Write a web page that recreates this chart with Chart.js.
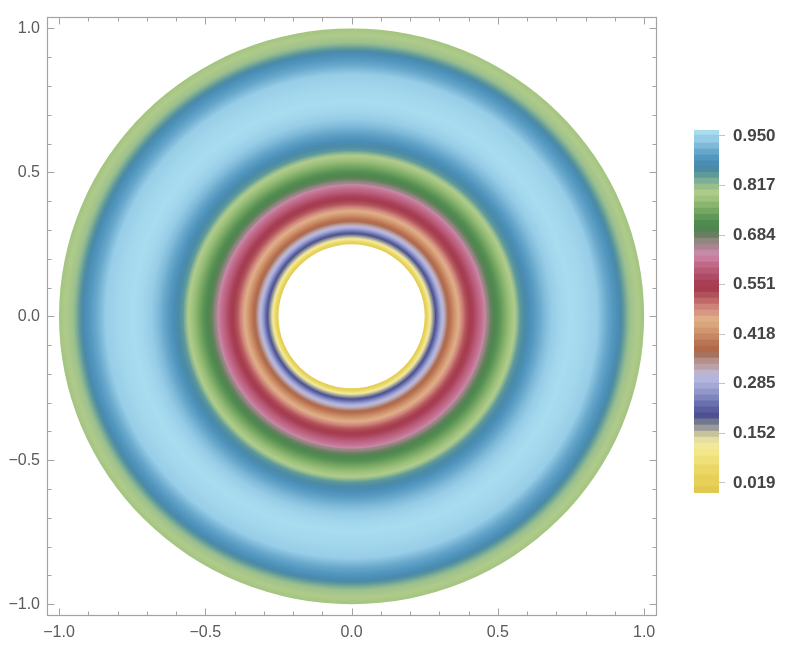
<!DOCTYPE html>
<html><head><meta charset="utf-8">
<script src="https://cdn.jsdelivr.net/npm/chart.js@4/dist/chart.umd.min.js"></script>
<style>
html,body{margin:0;padding:0;background:#fff;width:789px;height:657px;overflow:hidden}
#mainWrap{position:absolute;left:0;top:0;width:680px;height:657px}
#barWrap{position:absolute;left:680px;top:0;width:109px;height:657px}
</style></head><body>
<div id="mainWrap"><canvas id="main" width="680" height="657"></canvas></div>
<div id="barWrap"><canvas id="bar" width="109" height="657"></canvas></div>
<script>
// ---- data: radial profile of the density ----
const profileRadius = [0.25, 0.262, 0.272, 0.285, 0.303, 0.316, 0.33, 0.35, 0.371, 0.391, 0.412, 0.432, 0.453, 0.463, 0.48, 0.508, 0.535, 0.559, 0.576, 0.61, 0.662, 0.713, 0.747, 0.798, 0.84, 0.877, 0.911, 0.928, 0.952, 1.0];
const profileValue  = [0.0, 0.07, 0.14, 0.19, 0.27, 0.32, 0.37, 0.42, 0.47, 0.52, 0.55, 0.59, 0.62, 0.66, 0.69, 0.73, 0.77, 0.80, 0.845, 0.88, 0.925, 0.955, 0.966, 0.955, 0.94, 0.905, 0.877, 0.85, 0.81, 0.785];

// ---- colour legend ----
const paletteValues = [-0.008, 0.027, 0.054, 0.081, 0.102, 0.118, 0.134, 0.150, 0.166, 0.183, 0.199, 0.215, 0.231, 0.247, 0.263, 0.279, 0.295, 0.314, 0.330, 0.346, 0.362, 0.378, 0.394, 0.411, 0.427, 0.443, 0.459, 0.475, 0.491, 0.507, 0.523, 0.539, 0.555, 0.571, 0.588, 0.604, 0.620, 0.636, 0.652, 0.668, 0.684, 0.700, 0.716, 0.732, 0.748, 0.765, 0.781, 0.797, 0.813, 0.829, 0.845, 0.861, 0.877, 0.891, 0.907, 0.923, 0.939, 0.966];
const paletteColors = ['#E0C94D','#E6D058','#EBD766','#F0E07A','#F3E78A','#F2E89C','#E4DEA0','#C5C29E','#9A9A98','#707890','#4E5092','#5A5EA0','#6A6FAE','#7E84BC','#9296C8','#A4A8D6','#B3B5DE','#BDB5CF','#BCA0A8','#B58F8A','#A8735E','#B16A4B','#BC7553','#C78663','#D09670','#D9A57D','#DFAD87','#D69783','#CD8378','#C0686A','#B0525A','#A63C4E','#A83F55','#B04B66','#B85A77','#C06A88','#C97D9E','#C48AA6','#A8858F','#8D877D','#6C7E62','#4F8650','#528B50','#609858','#75A662','#8AB56F','#9FC27E','#AFCB8A','#99BE8E','#7FAE96','#5F9A9A','#4C8BA5','#4A8DB5','#5498C0','#67A7CB','#7EB9D8','#96CCE6','#A8DDF0'];
const legendTicks = [0.019, 0.152, 0.285, 0.418, 0.551, 0.684, 0.817, 0.950];

// ---- axes ----
const axisTicks = [-1.0, -0.5, 0.0, 0.5, 1.0];
const minorTicks = [-1.0,-0.9,-0.8,-0.7,-0.6,-0.5,-0.4,-0.3,-0.2,-0.1,0.0,0.1,0.2,0.3,0.4,0.5,0.6,0.7,0.8,0.9,1.0];

Chart.defaults.font.family = "'Liberation Sans', Arial, sans-serif";
Chart.defaults.animation = false;

function hexToRgb(h){ const n=parseInt(h.slice(1),16); return [(n>>16)&255,(n>>8)&255,n&255]; }
function colorFor(v){
  if (v <= paletteValues[0]) return paletteColors[0];
  const last = paletteValues.length-1;
  if (v >= paletteValues[last]) return paletteColors[last];
  for (let i=0;i<last;i++){
    const a=paletteValues[i], b=paletteValues[i+1];
    if (v>=a && v<=b){
      const t=(v-a)/(b-a), c1=hexToRgb(paletteColors[i]), c2=hexToRgb(paletteColors[i+1]);
      return 'rgb('+c1.map((c,k)=>Math.round(c+(c2[k]-c)*t)).join(',')+')';
    }
  }
  return paletteColors[last];
}
function fmt(v){ const s=Math.abs(v).toFixed(1); return v<-1e-9 ? '\u2212'+s : s; }

const annulusPlugin = {
  id:'annulus',
  beforeDatasetsDraw(chart){
    const {ctx, scales:{x,y}} = chart;
    const cx=x.getPixelForValue(0), cy=y.getPixelForValue(0);
    const sx=x.getPixelForValue(1)-cx, sy=cy-y.getPixelForValue(1);
    const rIn=profileRadius[0], rOut=profileRadius[profileRadius.length-1];
    ctx.save();
    ctx.translate(cx,cy); ctx.scale(sx,sy);
    const g=ctx.createRadialGradient(0,0,rIn,0,0,rOut);
    const off=r=>(r-rIn)/(rOut-rIn);
    for(let i=0;i<profileRadius.length-1;i++){
      const r0=profileRadius[i], r1=profileRadius[i+1], v0=profileValue[i], v1=profileValue[i+1];
      g.addColorStop(off(r0), colorFor(v0));
      let crossed = paletteValues.filter(p=> (p>Math.min(v0,v1) && p<Math.max(v0,v1)));
      if (v1<v0) crossed = crossed.reverse();
      crossed.forEach(p=>{ g.addColorStop(off(r0+(p-v0)/(v1-v0)*(r1-r0)), colorFor(p)); });
    }
    g.addColorStop(1, colorFor(profileValue[profileValue.length-1]));
    ctx.beginPath();
    ctx.arc(0,0,rOut,0,2*Math.PI,false);
    ctx.moveTo(rIn,0);
    ctx.arc(0,0,rIn,0,2*Math.PI,true);
    ctx.fillStyle=g; ctx.fill('evenodd');
    ctx.restore();
  }
};

const framePlugin = {
  id:'frame',
  afterDraw(chart){
    const {ctx, chartArea:a, scales:{x,y}} = chart;
    ctx.save();
    ctx.strokeStyle='#a3a3a3'; ctx.lineWidth=1.2;
    const L=Math.round(a.left)+0.5, R=Math.round(a.right)-0.5, T=Math.round(a.top)+0.5, B=Math.round(a.bottom)-0.5;
    ctx.strokeRect(L,T,R-L,B-T);
    ctx.lineWidth=1;
    ctx.beginPath();
    minorTicks.forEach(v=>{
      const major = axisTicks.some(m=>Math.abs(m-v)<1e-9);
      const len = major?7:4;
      const px=Math.round(x.getPixelForValue(v))+0.5;
      ctx.moveTo(px,B); ctx.lineTo(px,B-len);
      ctx.moveTo(px,T); ctx.lineTo(px,T+len);
      const py=Math.round(y.getPixelForValue(v))+0.5;
      ctx.moveTo(L,py); ctx.lineTo(L+len,py);
      ctx.moveTo(R,py); ctx.lineTo(R-len,py);
    });
    ctx.stroke();
    ctx.restore();
  }
};

new Chart(document.getElementById('main'), {
  type:'scatter',
  data:{datasets:[{data:[], showLine:false}]},
  options:{
    responsive:false,
    layout:{padding:{left:0,right:23,top:5,bottom:0}},
    plugins:{legend:{display:false}, tooltip:{enabled:false}},
    scales:{
      x:{type:'linear', min:-1.041, max:1.044,
         grid:{display:false, drawTicks:false}, border:{display:false},
         afterBuildTicks:s=>{ s.ticks=axisTicks.map(v=>({value:v})); },
         afterFit:s=>{ s.height=41; },
         ticks:{padding:7, color:'#5a5a5a', font:{size:16}, callback:v=>fmt(v), maxRotation:0, autoSkip:false}},
      y:{type:'linear', min:-1.041, max:1.041,
         grid:{display:false, drawTicks:false}, border:{display:false},
         afterBuildTicks:s=>{ s.ticks=axisTicks.map(v=>({value:v})); },
         afterFit:s=>{ s.width=47; },
         ticks:{padding:7, color:'#5a5a5a', font:{size:16}, callback:v=>fmt(v), autoSkip:false}}
    }
  },
  plugins:[annulusPlugin, framePlugin]
});

// colour bar: floating bars, one per palette band
const barSets = paletteValues.map((p,i)=>{
  const lo = i===0 ? p : (paletteValues[i-1]+p)/2;
  const hi = i===paletteValues.length-1 ? p : (p+paletteValues[i+1])/2;
  return {data:[[lo,hi]], backgroundColor:paletteColors[i], borderWidth:0, barPercentage:1, categoryPercentage:1, grouped:false};
});

new Chart(document.getElementById('bar'), {
  type:'bar',
  data:{labels:['v'], datasets:barSets},
  options:{
    responsive:false,
    layout:{padding:{left:14,right:0,top:130,bottom:164}},
    plugins:{legend:{display:false}, tooltip:{enabled:false}},
    scales:{
      x:{display:false},
      y:{position:'right', min:-0.008, max:0.966,
         grid:{display:true, drawOnChartArea:false, drawTicks:true, tickLength:6, color:'#c4c4c4'},
         border:{display:false},
         afterBuildTicks:s=>{ s.ticks=legendTicks.map(v=>({value:v})); },
         afterFit:s=>{ s.width=70; },
         ticks:{padding:8, color:'#444444', font:{size:17, weight:'bold'}, callback:v=>v.toFixed(3), autoSkip:false}}
    }
  }
});
</script>
</body></html>
